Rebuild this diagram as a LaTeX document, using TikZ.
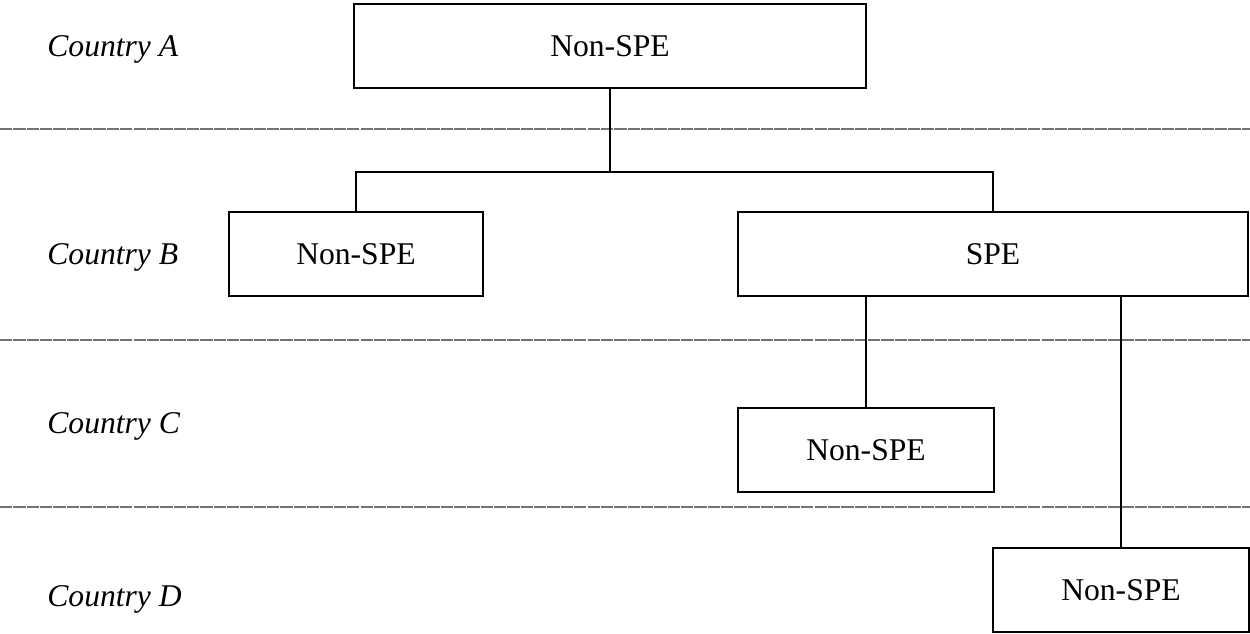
\documentclass[tikz,border=0pt]{standalone}
\usepackage{fontspec}
\setmainfont{Liberation Serif}
\usepackage{tikz}
\usetikzlibrary{calc}
\usetikzlibrary{positioning}
\tikzset{entity/.style={rectangle,draw=black,line width=1.1pt,inner sep=0pt,outer sep=0pt,
    minimum height=1.68cm,font=\fontsize{18}{21}\selectfont}}
\tikzset{country/.style={anchor=base west,inner sep=0pt,font=\fontsize{18}{21}\selectfont\itshape}}
\tikzset{layer/.style={draw=black!55,line width=1.2pt,dash pattern=on 7pt off 0.6pt}}
\tikzset{link/.style={draw=black,line width=1.1pt}}

\begin{document}
\begin{tikzpicture}[x=0.02cm,y=-0.02cm]
\useasboundingbox (0,0) rectangle (1250,634);

% country labels
\node[country] (cA) at (47, 57) {Country A};
\node[country] (cB) at (47, 265) {Country B};
\node[country] (cC) at (47, 434) {Country C};
\node[country] (cD) at (47, 606) {Country D};

% separators
\coordinate (s1l) at (0, 129);   \coordinate (s1r) at (1250, 129);
\coordinate (s2l) at (0, 340);   \coordinate (s2r) at (1250, 340);
\coordinate (s3l) at (0, 507);   \coordinate (s3r) at (1250, 507);
\draw[layer] (s1l) -- (s1r);
\draw[layer] (s2l) -- (s2r);
\draw[layer] (s3l) -- (s3r);

% entities
\node[entity,minimum width=10.24cm] (A) at (610, 46) {Non-SPE};
\node[entity,minimum width=5.08cm] (B1) at (356, 254) {Non-SPE};
\node[entity,minimum width=10.2cm] (B2) at (993, 254) {SPE};
\node[entity,minimum width=5.12cm] (C) at (866, 450) {Non-SPE};
\node[entity,minimum width=5.12cm] (D) at (1121, 590) {Non-SPE};

% ownership lines
\coordinate (jn) at ($(A.south) + (0, 84)$);
\draw[link] (A.south) -- (jn);
\draw[link] (B1.north) |- (jn) -| (B2.north);
\draw[link] (B2.south -| C.north) -- (C.north);
\draw[link] (B2.south -| D.north) -- (D.north);

\end{tikzpicture}
\end{document}
